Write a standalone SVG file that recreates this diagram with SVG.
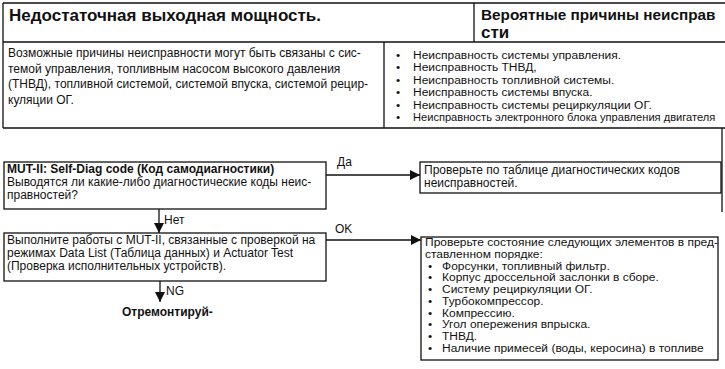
<svg xmlns="http://www.w3.org/2000/svg" width="725" height="369" viewBox="0 0 725 369">
<defs>
<style>
.ln{stroke:#111;stroke-width:1.3;fill:none}
.bx{stroke:#111;stroke-width:1.3;fill:#fff}
.t{font-family:"Liberation Sans",Arial,sans-serif;font-size:12px;fill:#111}
.s{font-family:"Liberation Sans",Arial,sans-serif;font-size:11px;fill:#111}
.b{font-weight:bold}
.h{font-family:"Liberation Sans",Arial,sans-serif;font-size:17px;font-weight:bold;fill:#111}
</style>
<marker id="ah" viewBox="0 0 10 10" refX="10" refY="5" markerWidth="10" markerHeight="10" markerUnits="userSpaceOnUse" orient="auto">
<path d="M0,0 L10,5 L0,10 Z" fill="#111"/>
</marker>
</defs>
<rect width="725" height="369" fill="#fff"/>

<g id="table">
<path class="ln" d="M3,3 H725 M3,42 H725 M3,128 H725 M3,3 V128 M474,3 V42 M384,42 V128"/>
<text class="h" x="9" y="21">Недостаточная выходная мощность.</text>
<text class="h" x="481" y="20" style="font-size:15.3px">Вероятные причины неисправ</text>
<text class="h" x="481" y="38">сти</text>
<text class="t" x="8" y="57">Возможные причины неисправности могут быть связаны с сис-</text>
<text class="t" x="8" y="72.5">темой управления, топливным насосом высокого давления</text>
<text class="t" x="8" y="88">(ТНВД), топливной системой, системой впуска, системой рецир-</text>
<text class="t" x="8" y="103.5">куляции ОГ.</text>
<g class="s" transform="translate(384,0) scale(1.09,1)">
<text x="11" y="59">•</text><text x="26.6" y="59">Неисправность системы управления.</text>
<text x="11" y="71.5">•</text><text x="26.6" y="71.5">Неисправность ТНВД,</text>
<text x="11" y="84">•</text><text x="26.6" y="84">Неисправность топливной системы.</text>
<text x="11" y="96.5">•</text><text x="26.6" y="96.5">Неисправность системы впуска.</text>
<text x="11" y="109">•</text><text x="26.6" y="109">Неисправность системы рециркуляции ОГ.</text>
<text x="11" y="121.5">•</text><text x="26.6" y="121.5" style="font-size:10.2px">Неисправность электронного блока управления двигателя</text>
</g>
</g>

<line class="ln" x1="722" y1="128" x2="722" y2="212" stroke-width="1"/>

<g id="n1">
<rect class="bx" x="4" y="162" width="322" height="47"/>
<text class="t b" x="7" y="173">MUT-II: Self-Diag code (Код самодиагностики)</text>
<text class="t" x="7" y="186">Выводятся ли какие-либо диагностические коды неис-</text>
<text class="t" x="7" y="198.5">правностей?</text>
</g>

<g id="n2">
<rect class="bx" x="420" y="162" width="301" height="31"/>
<text class="t" x="424" y="174">Проверьте по таблице диагностических кодов</text>
<text class="t" x="424" y="187">неисправностей.</text>
</g>

<g id="n3">
<rect class="bx" x="4" y="233" width="322" height="48"/>
<text class="t" x="7" y="244">Выполните работы с MUT-II, связанные с проверкой на</text>
<text class="t" x="7" y="257">режимах  Data List (Таблица данных) и Actuator Test</text>
<text class="t" x="7" y="270">(Проверка исполнительных устройств).</text>
</g>

<g id="n4">
<rect class="bx" x="421" y="237" width="297" height="123"/>
<g class="s" transform="translate(421,0) scale(1.09,1)">
<text x="3.7" y="246">Проверьте состояние следующих элементов в пред-</text>
<text x="3.7" y="257.8">ставленном порядке:</text>
<text x="6.4" y="269.6">•</text><text x="19.3" y="269.6">Форсунки, топливный фильтр.</text>
<text x="6.4" y="281.3">•</text><text x="19.3" y="281.3">Корпус дроссельной заслонки в сборе.</text>
<text x="6.4" y="293.1">•</text><text x="19.3" y="293.1">Систему рециркуляции ОГ.</text>
<text x="6.4" y="304.9">•</text><text x="19.3" y="304.9">Турбокомпрессор.</text>
<text x="6.4" y="316.7">•</text><text x="19.3" y="316.7">Компрессию.</text>
<text x="6.4" y="328.4">•</text><text x="19.3" y="328.4">Угол опережения впрыска.</text>
<text x="6.4" y="340.2">•</text><text x="19.3" y="340.2">ТНВД.</text>
<text x="6.4" y="352">•</text><text x="19.3" y="352">Наличие примесей (воды, керосина) в топливе</text>
</g>
</g>

<g id="n5">
<text class="t b" x="122" y="316">Отремонтируй-</text>
</g>

<g id="connectors">
<line class="ln" x1="326" y1="175" x2="420" y2="175" marker-end="url(#ah)"/>
<text class="t" x="337" y="166">Да</text>
<line class="ln" x1="159" y1="209" x2="159" y2="233" marker-end="url(#ah)"/>
<text class="t" x="164" y="224">Нет</text>
<line class="ln" x1="326" y1="240" x2="421" y2="240" marker-end="url(#ah)"/>
<text class="t" x="335" y="233">OK</text>
<line class="ln" x1="160" y1="281" x2="160" y2="302" marker-end="url(#ah)"/>
<text class="t" x="166" y="295">NG</text>
</g>
</svg>
